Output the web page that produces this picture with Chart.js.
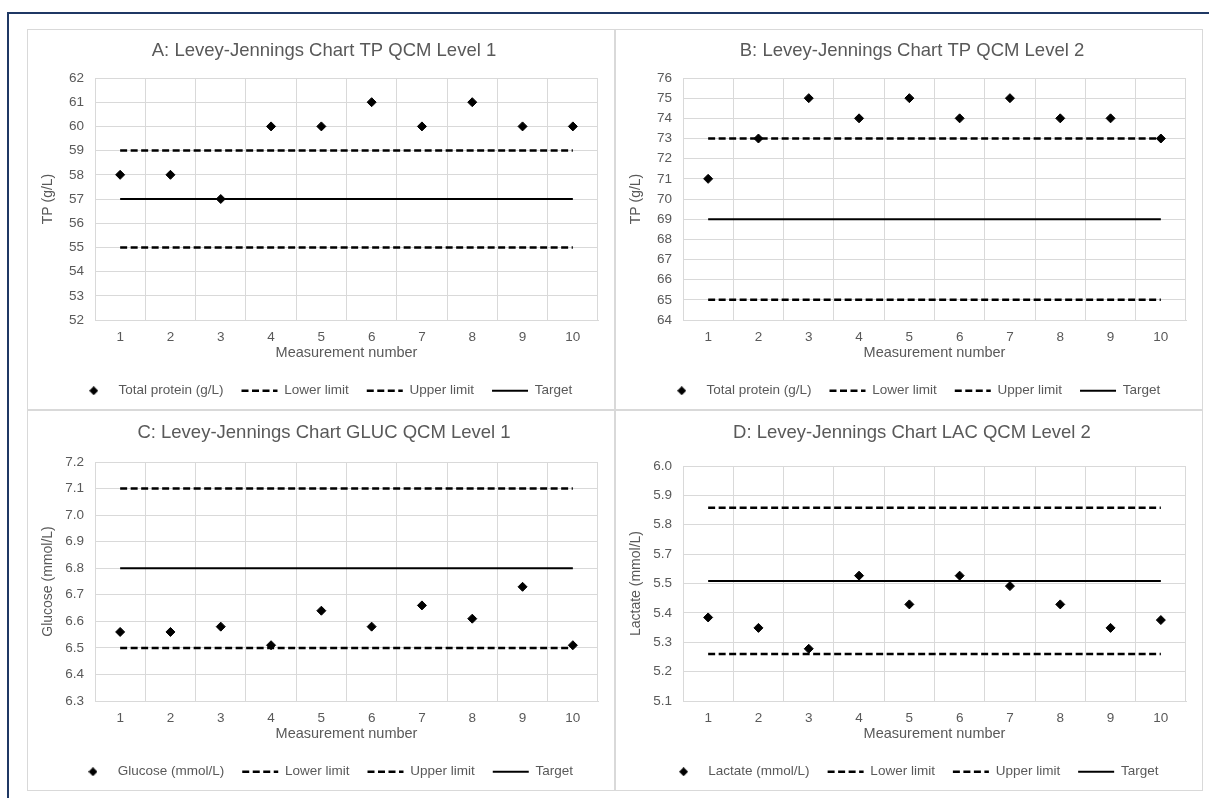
<!DOCTYPE html>
<html lang="en">
<head>
<meta charset="UTF-8">
<title>Levey-Jennings QC Charts</title>
<script src="https://cdn.jsdelivr.net/npm/chart.js"></script>
<style>
    html, body {
        margin: 0;
        background: #fff;
        overflow: hidden;
        width: 1209px;
        height: 798px;
    }
    .frame {
        position: absolute;
        left: 7px;
        top: 12px;
        width: 1202px;
        height: 786px;
        border-left: 2px solid #1f3864;
        border-top: 2px solid #1f3864;
        box-sizing: border-box;
    }
    .panel {
        position: absolute;
        width: 588px;
        height: 381px;
        border: 1px solid #d9d9d9;
        box-sizing: border-box;
        background: #fff;
    }
    .panel canvas {
        display: block;
    }
</style>
</head>
<body>
<div class="frame"></div>
<div class="panel" style="left:27px; top:29px;"><canvas id="chartA" width="586" height="379"></canvas></div>
<div class="panel" style="left:615px; top:29px;"><canvas id="chartB" width="586" height="379"></canvas></div>
<div class="panel" style="left:27px; top:410px;"><canvas id="chartC" width="586" height="379"></canvas></div>
<div class="panel" style="left:615px; top:410px;"><canvas id="chartD" width="586" height="379"></canvas></div>

<script>
// measurement numbers along the x axis
const runs = ['1', '2', '3', '4', '5', '6', '7', '8', '9', '10'];

// A: total protein, QCM level 1 (g/L)
const tpLevel1 = [58, 58, 57, 60, 60, 61, 60, 61, 60, 60];
const tpLevel1Limits = [55, 59, 57];      // lower, upper, target
const tpLevel1Axis = [52, 62, 1];         // min, max, step

// B: total protein, QCM level 2 (g/L)
const tpLevel2 = [71, 73, 75, 74, 75, 74, 75, 74, 74, 73];
const tpLevel2Limits = [65, 73, 69];
const tpLevel2Axis = [64, 76, 1];

// C: glucose, QCM level 1 (mmol/L)
const glucLevel1 = [6.56, 6.56, 6.58, 6.51, 6.64, 6.58, 6.66, 6.61, 6.73, 6.51];
const glucLevel1Limits = [6.5, 7.1, 6.8];
const glucLevel1Axis = [6.3, 7.2, 0.1];

// D: lactate, QCM level 2 (mmol/L)
const lacLevel2 = [5.42, 5.38, 5.30, 5.58, 5.47, 5.58, 5.54, 5.47, 5.38, 5.41];
const lacLevel2Limits = [5.28, 5.84, 5.56];
const lacLevel2Axis = [5.1, 6.0, 0.1125];

const textColor = '#595959';
const gridColor = '#d9d9d9';
const fontFamily = 'Arial, "Liberation Sans", sans-serif';
const limitDash = [7, 3.5];

// small filled diamond used as the legend sample for the measurements
function diamondMarker(size) {
    const c = document.createElement('canvas');
    c.width = c.height = size;
    const g = c.getContext('2d');
    g.fillStyle = '#000';
    g.beginPath();
    g.moveTo(size / 2, 0);
    g.lineTo(size, size / 2);
    g.lineTo(size / 2, size);
    g.lineTo(0, size / 2);
    g.closePath();
    g.fill();
    return c;
}
const legendDiamond = diamondMarker(9);

// plotTop: distance from canvas top to the top gridline
function qcChart(id, title, yTitle, seriesLabel, values, limits, axis, decimals, plotTop) {
    const flat = v => runs.map(() => v);
    const titleTop = plotTop > 50 ? 11 : 10;
    new Chart(document.getElementById(id), {
        type: 'line',
        data: {
            labels: runs,
            datasets: [
                {
                    label: seriesLabel,
                    data: values,
                    showLine: false,
                    pointStyle: 'rectRot',
                    pointRadius: 4.5,
                    pointBorderWidth: 1,
                    pointBackgroundColor: '#000',
                    pointBorderColor: '#000',
                    borderColor: '#000'
                },
                {
                    label: 'Lower limit',
                    data: flat(limits[0]),
                    borderColor: '#000',
                    borderWidth: 2.5,
                    borderDash: limitDash,
                    pointRadius: 0
                },
                {
                    label: 'Upper limit',
                    data: flat(limits[1]),
                    borderColor: '#000',
                    borderWidth: 2.5,
                    borderDash: limitDash,
                    pointRadius: 0
                },
                {
                    label: 'Target',
                    data: flat(limits[2]),
                    borderColor: '#000',
                    borderWidth: 2,
                    pointRadius: 0
                }
            ]
        },
        options: {
            responsive: false,
            animation: false,
            layout: { padding: { left: 22, right: 16, top: 0, bottom: 1.5 } },
            plugins: {
                tooltip: { enabled: false },
                title: {
                    display: true,
                    text: title,
                    color: textColor,
                    font: { family: fontFamily, size: 18.5, weight: 'normal' },
                    padding: { top: titleTop, bottom: plotTop - titleTop - 22.2 }
                },
                legend: {
                    position: 'bottom',
                    labels: {
                        color: textColor,
                        font: { family: fontFamily, size: 13.5 },
                        usePointStyle: true,
                        pointStyleWidth: 36,
                        boxHeight: 6,
                        padding: 18,
                        // build the samples by hand so the limit lines keep their dashes
                        generateLabels(chart) {
                            return chart.data.datasets.map((ds, i) => ({
                                text: ds.label,
                                datasetIndex: i,
                                fontColor: textColor,
                                fillStyle: '#000',
                                strokeStyle: '#000',
                                pointStyle: i === 0 ? legendDiamond : 'line',
                                lineWidth: i === 0 ? 1 : ds.borderWidth,
                                lineDash: ds.borderDash || []
                            }));
                        }
                    }
                }
            },
            scales: {
                x: {
                    offset: true,
                    grid: { offset: true, color: gridColor, drawTicks: false },
                    border: { color: gridColor },
                    ticks: {
                        color: textColor,
                        font: { family: fontFamily, size: 13.5 },
                        padding: 9,
                        maxRotation: 0,
                        autoSkip: false
                    },
                    title: {
                        display: true,
                        text: 'Measurement number',
                        color: textColor,
                        font: { family: fontFamily, size: 14.5 },
                        padding: { top: 0, bottom: 4.3 }
                    },
                    afterFit(scale) {
                        scale.height = 46;
                    }
                },
                y: {
                    min: axis[0],
                    max: axis[1],
                    grid: { color: gridColor, drawTicks: false },
                    border: { color: gridColor },
                    ticks: {
                        stepSize: axis[2],
                        maxTicksLimit: 20,
                        autoSkip: false,
                        color: textColor,
                        font: { family: fontFamily, size: 13.5 },
                        padding: 11,
                        callback: v => Number(v).toFixed(decimals)
                    },
                    title: {
                        display: true,
                        text: yTitle,
                        color: textColor,
                        font: { family: fontFamily, size: 14 },
                        padding: { top: -10.4, bottom: 0 }
                    },
                    afterFit(scale) {
                        scale.width = 45;
                    }
                }
            }
        }
    });
}

qcChart('chartA', 'A: Levey-Jennings Chart TP QCM Level 1', 'TP (g/L)', 'Total protein (g/L)',
    tpLevel1, tpLevel1Limits, tpLevel1Axis, 0, 48);
qcChart('chartB', 'B: Levey-Jennings Chart TP QCM Level 2', 'TP (g/L)', 'Total protein (g/L)',
    tpLevel2, tpLevel2Limits, tpLevel2Axis, 0, 48);
qcChart('chartC', 'C: Levey-Jennings Chart GLUC QCM Level 1', 'Glucose (mmol/L)', 'Glucose (mmol/L)',
    glucLevel1, glucLevel1Limits, glucLevel1Axis, 1, 51);
qcChart('chartD', 'D: Levey-Jennings Chart LAC QCM Level 2', 'Lactate (mmol/L)', 'Lactate (mmol/L)',
    lacLevel2, lacLevel2Limits, lacLevel2Axis, 1, 55);
</script>
</body>
</html>
